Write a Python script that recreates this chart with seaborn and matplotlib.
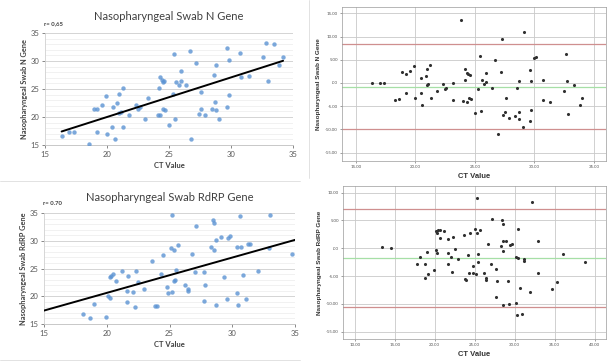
import matplotlib
matplotlib.use("Agg")
import matplotlib.pyplot as plt
from matplotlib.ticker import MultipleLocator
from matplotlib.lines import Line2D
import seaborn as sns

# N gene: CT value vs nasopharyngeal swab
n_ct = [16.34, 16.96, 17.3, 18.57, 18.95, 19.2, 19.16, 19.6, 19.9, 19.97, 20.4, 20.45,
        20.64, 20.8, 21.0, 21.0, 21.1, 21.25, 21.3, 21.8, 22.3, 22.5, 22.65, 23.1, 23.3,
        24.1, 24.26, 24.2, 24.26, 24.4, 24.5, 24.6, 24.5, 24.7, 25.0, 25.3, 25.4, 25.5,
        25.6, 25.8, 25.96, 26.0, 26.4, 26.7, 26.8, 27.2, 27.4, 27.6, 27.6, 27.9, 28.5,
        28.6, 28.7, 28.8, 28.8, 29.0, 29.7, 29.7, 29.8, 29.8, 30.76, 30.8, 31.46, 32.6,
        32.8, 33.0, 33.5, 33.9, 34.2]
n_val = [16.6, 17.4, 17.4, 15.2, 21.4, 21.4, 17.3, 22.2, 23.7, 17.0, 18.3, 21.8,
         16.0, 22.5, 24.1, 20.8, 20.9, 25.2, 18.3, 20.3, 22.2, 21.5, 21.7, 19.7, 23.4,
         20.3, 20.4, 25.1, 27.2, 26.6, 26.3, 26.5, 21.5, 21.3, 18.6, 24.1, 31.3, 19.6,
         26.3, 25.8, 26.4, 28.3, 25.7, 31.8, 16.0, 29.7, 20.6, 21.4, 24.4, 20.4, 21.5,
         27.5, 22.7, 21.2, 29.2, 19.7, 32.4, 21.7, 30.1, 24.0, 31.5, 27.1, 27.3, 30.8,
         33.2, 26.5, 33.0, 29.3, 30.8]

# N gene: Bland-Altman
n_ba_x = [16.4, 17.04, 17.4, 18.27, 18.6, 18.9, 19.2, 19.2, 19.55, 19.9, 20.0, 20.45,
          20.5, 20.6, 20.9, 20.95, 20.95, 21.1, 21.2, 21.3, 21.8, 22.3, 22.5, 22.55,
          23.15, 23.2, 23.8, 24.0, 24.2, 24.2, 24.3, 24.36, 24.4, 24.55, 24.5, 24.7,
          25.0, 25.3, 25.4, 25.55, 25.6, 25.8, 25.9, 25.96, 26.4, 26.7, 26.9, 27.2,
          27.26, 27.35, 27.5, 27.6, 27.85, 28.35, 28.5, 28.7, 28.7, 28.7, 29.0, 29.1,
          29.6, 29.6, 29.67, 29.7, 30.0, 30.1, 30.7, 30.7, 31.3, 32.5, 32.65, 32.7,
          32.85, 33.3, 33.8, 34.0]
n_ba_y = [0.07, 0.1, 0.0, -3.6, -3.5, 2.4, 1.9, -2.1, 2.5, 3.7, -3.2, -2.2,
          1.1, -4.8, 1.4, 3.1, -0.4, -0.3, 3.9, -3.2, -1.7, -0.2, -1.2, -1.1,
          -3.6, 0.07, 13.6, -3.9, 0.7, 3.0, -4.0, 2.15, 1.9, 1.7, -3.2, -3.4,
          -6.5, -1.3, 5.9, -6.1, 0.6, -0.3, 0.3, 2.2, -1.0, 5.0, -11.0, 2.4,
          9.4, -6.9, -6.3, -3.3, -7.6, -7.1, -1.15, 0.4, -7.7, -6.2, -9.5, 11.0,
          -8.2, 2.7, 0.4, -5.9, 5.4, 5.6, 0.7, -3.6, -4.2, -1.7, 6.3, 0.36,
          -6.6, -0.4, -4.7, -3.3]
n_mean, n_upper, n_lower = -0.8, 8.3, -9.9

# RdRP gene: CT value vs nasopharyngeal swab
r_ct = [18.13, 18.67, 18.98, 19.94, 20.13, 20.26, 20.26, 20.31, 20.52, 20.74, 21.19,
        21.72, 21.64, 21.59, 22.07, 22.22, 22.33, 22.52, 23.0, 23.63, 23.84, 23.98,
        24.32, 24.46, 25.23, 25.09, 25.33, 25.65, 25.52, 25.44, 25.36, 24.77, 24.85,
        25.17, 26.24, 26.45, 26.5, 26.82, 27.03, 27.08, 27.75, 27.8, 27.75, 28.49,
        28.57, 28.31, 28.57, 28.68, 28.68, 29.08, 29.37, 29.56, 29.69, 29.82, 30.35,
        30.35, 30.62, 30.48, 30.7, 30.88, 31.1, 31.28, 31.44, 32.08, 32.95, 33.03,
        34.73]
r_val = [16.8, 16.1, 18.6, 16.2, 20.1, 19.6, 23.4, 23.7, 24.0, 22.8, 24.6,
         23.6, 19.0, 20.9, 20.7, 18.1, 24.6, 22.6, 21.3, 26.3, 18.2, 18.2,
         24.0, 27.4, 34.58, 28.67, 28.31, 29.28, 24.7, 23.0, 22.83, 21.69, 20.66,
         20.84, 21.99, 21.27, 20.9, 27.6, 24.28, 32.6, 24.28, 21.99, 19.16, 33.8,
         33.13, 28.92, 28.3, 30.12, 18.5, 30.6, 23.5, 19.58, 30.48, 30.78, 28.8,
         20.66, 34.5, 18.5, 28.86, 23.9, 19.46, 29.4, 29.4, 24.46, 28.67, 34.58,
         27.6]

# RdRP gene: Bland-Altman
r_ba_x = [13.46, 14.58, 17.8, 18.1, 18.75, 18.8, 19.0, 19.2, 19.9, 20.1, 20.25, 20.2,
          20.3, 20.45, 20.6, 20.7, 21.2, 21.6, 21.6, 21.7, 22.0, 22.2, 22.3, 22.5,
          22.9, 23.6, 23.8, 23.9, 24.1, 24.3, 24.4, 24.75, 24.8, 25.04, 25.2, 25.25,
          25.3, 25.4, 25.4, 25.7, 26.2, 26.4, 26.45, 26.7, 27.0, 27.1, 27.7, 27.7,
          27.75, 28.25, 28.4, 28.5, 28.5, 28.55, 28.55, 28.9, 29.1, 29.3, 29.4, 29.6,
          30.1, 30.1, 30.3, 30.4, 30.4, 30.6, 30.85, 31.1, 31.2, 31.9, 32.15, 32.9,
          32.9, 34.7, 35.25, 36.0, 38.8]
r_ba_y = [0.18, 0.06, -2.9, -1.6, -2.75, -5.4, -0.6, -4.55, -3.95, -0.3, -0.9, 3.1,
          2.8, 3.35, 3.35, 1.9, 3.2, -0.84, -2.75, 1.7, -1.5, -4.2, 2.1, -0.06,
          -2.0, 2.4, -5.6, -5.75, -1.2, -4.4, 2.8, -3.1, -4.4, 3.4, -4.55, 9.0,
          2.8, -0.96, -2.5, 3.3, -4.4, -5.3, -5.7, 0.7, -2.9, 5.3, -3.8, -8.8,
          -5.9, 0.4, 5.0, 4.4, -0.4, -10.2, 1.3, 1.3, -5.9, -10.0, 0.54, 0.8,
          -1.56, -9.8, -12.0, -1.7, 3.5, -7.1, -11.8, -2.0, -2.2, -7.8, 8.4, -4.4,
          1.26, -7.3, -6.0, -0.96, -2.4]
r_mean, r_upper, r_lower = -1.7, 7.0, -10.5

ba_yticks = [15, 10, 5, 0, -5, -10, -15]
ba_ylabels = ["15.00", "10.00", "5.00", ".00", "-5.00", "-10.00", "-15.00"]

sns.set_theme(style="white")
plt.rcParams['font.family'] = ['Lato', 'DejaVu Sans']

W, H = 608, 362
fig = plt.figure(figsize=(W / 100, H / 100), dpi=100)


def px(l, t, r, b):
    return [l / W, 1 - b / H, (r - l) / W, (b - t) / H]


def corr_panel(rect, x, y, title, ylabel, rtext, full_line):
    ax = fig.add_axes(px(*rect))
    # fitted line spans the data range, or the whole axis
    ax.set_xlim((15, 35) if full_line else (min(x), max(x)))
    sns.regplot(x=x, y=y, ax=ax, ci=None, truncate=False,
                scatter_kws={"color": "#5b93d3", "s": 10, "linewidths": 0, "zorder": 3},
                line_kws={"color": "black", "lw": 1.4, "zorder": 5})
    ax.set_xlim(15, 35)
    ax.set_ylim(15, 35)
    ax.yaxis.set_major_locator(MultipleLocator(5))
    ax.yaxis.set_minor_locator(MultipleLocator(1))
    ax.xaxis.set_major_locator(MultipleLocator(5))
    ax.grid(axis="y", which="major", color="#d4d4d4", lw=0.7)
    ax.grid(axis="y", which="minor", color="#ececec", lw=0.5)
    ax.set_axisbelow(True)
    for s in ["top", "right"]:
        ax.spines[s].set_visible(False)
    ax.spines["left"].set_color("#d0d0d0")
    ax.spines["bottom"].set_color("#bfbfbf")
    ax.spines["left"].set_linewidth(0.6)
    ax.spines["bottom"].set_linewidth(0.6)
    ax.tick_params(axis="both", which="major", labelsize=5.5, colors="#595959",
                   length=2.5, width=0.5, pad=2)
    ax.tick_params(axis="y", which="minor", length=0)
    ax.tick_params(axis="x", direction="out", bottom=True)
    ax.tick_params(axis="y", direction="out", left=True, length=2)
    ax.set_xlabel("CT Value", fontsize=5.5, fontweight="bold", color="#404040", labelpad=3)
    ax.set_ylabel(ylabel, fontsize=5.3, fontweight="bold", color="#404040", labelpad=2)
    ax.set_title(title, fontsize=8, color="#404040", pad=9)
    ax.text(-0.005, 1.06, rtext, transform=ax.transAxes, fontsize=4.3,
            fontweight="bold", color="#404040", ha="left", va="bottom")
    return ax


def ba_panel(rect, x, y, xlim, ylim, xticks, ylabel, mean, upper, lower):
    ax = fig.add_axes(px(*rect))
    ax.set_xticks(xticks)
    ax.set_xticklabels([f"{v:.2f}" for v in xticks])
    ax.set_yticks(ba_yticks)
    ax.set_yticklabels(ba_ylabels)
    ax.grid(True, color="#c9c9c9", lw=0.6)
    ax.set_axisbelow(True)
    ax.axhline(upper, color="#cf8f8f", lw=0.9, zorder=2)
    ax.axhline(lower, color="#cf8f8f", lw=0.9, zorder=2)
    ax.axhline(mean, color="#a6dfa6", lw=0.9, zorder=2)
    sns.scatterplot(x=x, y=y, ax=ax, color="#303030", s=5, linewidth=0, zorder=3)
    ax.set_xlim(*xlim)
    ax.set_ylim(*ylim)
    for s in ax.spines.values():
        s.set_color("#9a9a9a")
        s.set_linewidth(0.5)
    ax.tick_params(axis="both", labelsize=3.2, colors="#555555", length=1.5,
                   width=0.4, pad=1.5, left=True, bottom=True)
    ax.set_xlabel("CT Value", fontsize=5.5, fontweight="bold", color="#333333",
                  labelpad=3, family=["Liberation Sans", "DejaVu Sans"])
    ax.set_ylabel(ylabel, fontsize=4.6, fontweight="bold", color="#333333",
                  labelpad=3, family=["Liberation Sans", "DejaVu Sans"])
    return ax


corr_panel((45, 33, 293, 145), n_ct, n_val, "Nasopharyngeal Swab N Gene",
           "Nasopharyngeal Swab N Gene", "r= 0,65", False)
corr_panel((44, 213, 295, 324), r_ct, r_val, "Nasopharyngeal Swab RdRP Gene",
           "Nasopharyngeal Swab RdRP Gene", "r= 0.70", True)

ba_panel((342, 7, 606, 161), n_ba_x, n_ba_y, (13.85, 36.0), (-16.8, 16.36),
         [15, 20, 25, 30, 35], "Nasopharyngeal Swab N Gene", n_mean, n_upper, n_lower)
ba_panel((343, 186, 606, 339), r_ba_x, r_ba_y, (8.54, 41.4), (-16.3, 11.2),
         [10, 15, 20, 25, 30, 35, 40], "Nasopharyngeal Swab RdRP Gene",
         r_mean, r_upper, r_lower)

# light separators from the original composite
fig.add_artist(Line2D([0, 300 / W], [1 - 181 / H, 1 - 181 / H], color="#dddddd", lw=0.6))
fig.add_artist(Line2D([0, 300 / W], [1 - 360 / H, 1 - 360 / H], color="#dddddd", lw=0.6))
fig.add_artist(Line2D([309 / W, 309 / W], [1 - 178 / H, 1], color="#dddddd", lw=0.6))

fig.savefig("out.png", dpi=100)
